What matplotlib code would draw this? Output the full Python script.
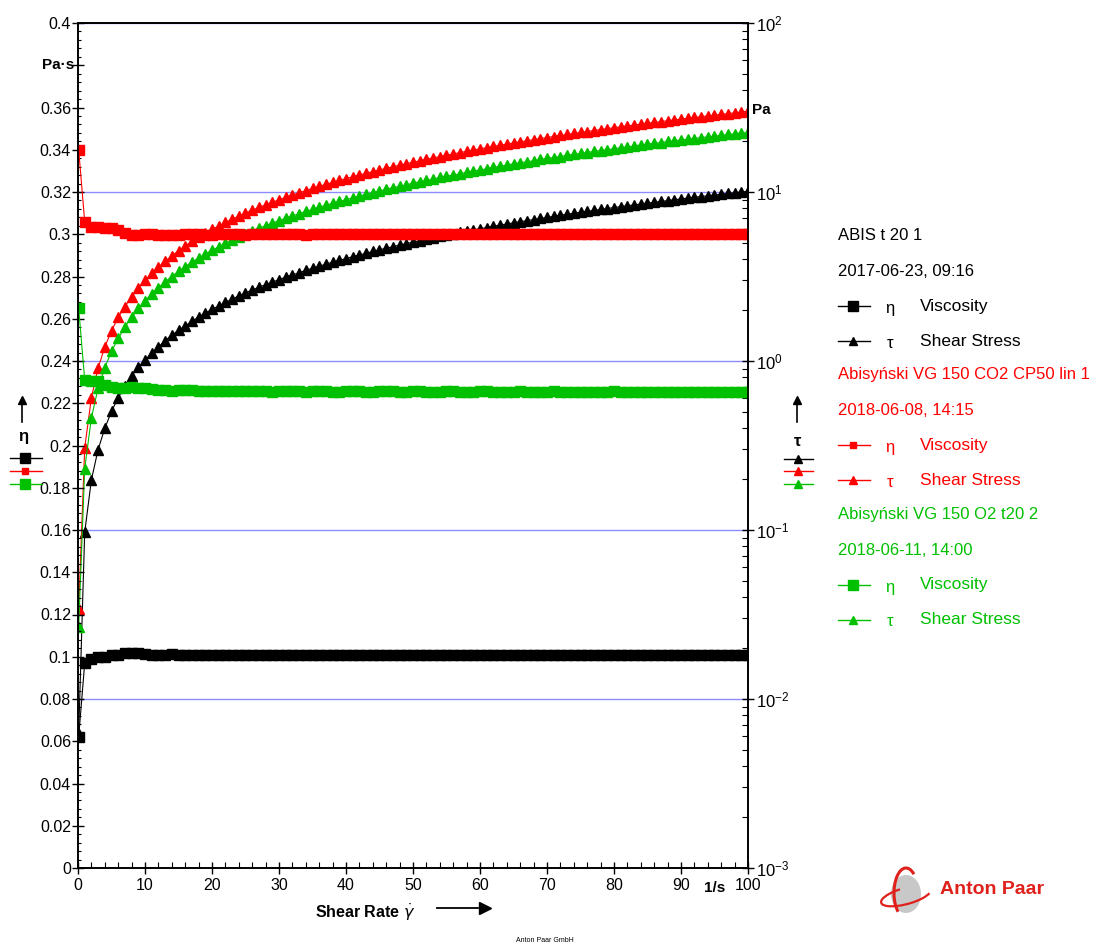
import matplotlib.pyplot as plt
import matplotlib.ticker as mticker
from matplotlib.lines import Line2D
from matplotlib.patches import Ellipse, Arc

plt.rcParams['font.family'] = ['Liberation Sans', 'DejaVu Sans']

W, H = 1096, 946

# shear rate [1/s]
shear_rate = [0.1,
              1, 2, 3, 4, 5, 6, 7, 8, 9, 10,
              11, 12, 13, 14, 15, 16, 17, 18, 19, 20,
              21, 22, 23, 24, 25, 26, 27, 28, 29, 30,
              31, 32, 33, 34, 35, 36, 37, 38, 39, 40,
              41, 42, 43, 44, 45, 46, 47, 48, 49, 50,
              51, 52, 53, 54, 55, 56, 57, 58, 59, 60,
              61, 62, 63, 64, 65, 66, 67, 68, 69, 70,
              71, 72, 73, 74, 75, 76, 77, 78, 79, 80,
              81, 82, 83, 84, 85, 86, 87, 88, 89, 90,
              91, 92, 93, 94, 95, 96, 97, 98, 99, 100]

# ABIS t 20 1 (black)
visc_black = [0.062,
              0.097, 0.099, 0.0997, 0.100, 0.1006, 0.101, 0.1016, 0.102, 0.102, 0.1015,
              0.101, 0.1008, 0.101, 0.1014, 0.101, 0.1008, 0.1008, 0.101, 0.101, 0.1008,
              0.1006, 0.1008, 0.101, 0.101, 0.1008, 0.1008, 0.1006, 0.1006, 0.1008, 0.1008,
              0.101, 0.1008, 0.1006, 0.1008, 0.101, 0.1008, 0.1006, 0.1006, 0.1008, 0.101,
              0.1008, 0.1006, 0.1006, 0.1008, 0.1008, 0.1006, 0.1006, 0.1008, 0.101, 0.1008,
              0.1006, 0.1006, 0.1008, 0.1008, 0.1006, 0.1006, 0.1008, 0.1008, 0.1006, 0.1006,
              0.1008, 0.1008, 0.1006, 0.1006, 0.1008, 0.101, 0.1008, 0.1006, 0.1006, 0.1008,
              0.1008, 0.1006, 0.1006, 0.1008, 0.1008, 0.1006, 0.1008, 0.101, 0.1008, 0.1006,
              0.1006, 0.1008, 0.1008, 0.1006, 0.1006, 0.1008, 0.1008, 0.1006, 0.1008, 0.1008,
              0.1006, 0.1006, 0.1008, 0.1008, 0.1006, 0.1006, 0.1008, 0.1008, 0.1006, 0.1006]
stress_black = [0.0062,
                0.097, 0.198, 0.299, 0.400, 0.503, 0.606, 0.711, 0.816, 0.918, 1.015,
                1.11, 1.21, 1.32, 1.42, 1.52, 1.61, 1.72, 1.82, 1.92, 2.02,
                2.12, 2.22, 2.32, 2.43, 2.53, 2.63, 2.73, 2.83, 2.93, 3.03,
                3.13, 3.23, 3.33, 3.44, 3.54, 3.64, 3.74, 3.84, 3.94, 4.04,
                4.14, 4.24, 4.34, 4.45, 4.55, 4.65, 4.75, 4.85, 4.95, 5.05,
                5.15, 5.25, 5.36, 5.46, 5.56, 5.66, 5.76, 5.86, 5.96, 6.06,
                6.16, 6.27, 6.37, 6.47, 6.57, 6.67, 6.77, 6.87, 6.97, 7.07,
                7.18, 7.28, 7.38, 7.48, 7.58, 7.68, 7.78, 7.88, 7.98, 8.09,
                8.19, 8.29, 8.39, 8.49, 8.59, 8.69, 8.79, 8.89, 9.00, 9.10,
                9.20, 9.30, 9.40, 9.50, 9.60, 9.70, 9.81, 9.91, 10.0, 10.1]

# Abisynski VG 150 CO2 CP50 lin 1 (red)
visc_red = [0.340,
            0.306, 0.3035, 0.3035, 0.303, 0.3028, 0.302, 0.3005, 0.2995, 0.2995, 0.300,
            0.300, 0.2998, 0.2995, 0.2995, 0.2998, 0.3002, 0.3003, 0.300, 0.2998, 0.2998,
            0.300, 0.3002, 0.3002, 0.300, 0.2998, 0.300, 0.3002, 0.3002, 0.300, 0.300,
            0.3002, 0.3002, 0.300, 0.2998, 0.300, 0.3002, 0.3002, 0.300, 0.300, 0.3002,
            0.3002, 0.300, 0.300, 0.3002, 0.3003, 0.3002, 0.300, 0.300, 0.3002, 0.3002,
            0.300, 0.300, 0.3002, 0.3002, 0.300, 0.300, 0.3002, 0.3003, 0.3002, 0.300,
            0.300, 0.3002, 0.3002, 0.300, 0.300, 0.3002, 0.3002, 0.300, 0.300, 0.3002,
            0.3003, 0.3002, 0.300, 0.300, 0.3002, 0.3002, 0.300, 0.300, 0.3002, 0.3002,
            0.300, 0.300, 0.3002, 0.3003, 0.3002, 0.300, 0.300, 0.3002, 0.3002, 0.300,
            0.300, 0.3002, 0.3002, 0.300, 0.300, 0.3002, 0.3003, 0.3002, 0.300, 0.300]
stress_red = [0.034,
              0.306, 0.607, 0.910, 1.21, 1.51, 1.81, 2.10, 2.40, 2.70, 3.00,
              3.30, 3.60, 3.89, 4.19, 4.50, 4.80, 5.10, 5.40, 5.70, 6.00,
              6.30, 6.60, 6.90, 7.20, 7.50, 7.80, 8.10, 8.40, 8.70, 9.00,
              9.30, 9.60, 9.90, 10.2, 10.5, 10.8, 11.1, 11.4, 11.7, 12.0,
              12.3, 12.6, 12.9, 13.2, 13.5, 13.8, 14.1, 14.4, 14.7, 15.0,
              15.3, 15.6, 15.9, 16.2, 16.5, 16.8, 17.1, 17.4, 17.7, 18.0,
              18.3, 18.6, 18.9, 19.2, 19.5, 19.8, 20.1, 20.4, 20.7, 21.0,
              21.3, 21.6, 21.9, 22.2, 22.5, 22.8, 23.1, 23.4, 23.7, 24.0,
              24.3, 24.6, 24.9, 25.2, 25.5, 25.8, 26.1, 26.4, 26.7, 27.0,
              27.3, 27.6, 27.9, 28.2, 28.5, 28.8, 29.1, 29.4, 29.7, 30.0]

# Abisynski VG 150 O2 t20 2 (green)
visc_green = [0.265,
              0.231, 0.2305, 0.2303, 0.2285, 0.2275, 0.227, 0.2273, 0.2276, 0.2273, 0.227,
              0.2268, 0.2265, 0.2262, 0.226, 0.2262, 0.2265, 0.2262, 0.226, 0.2258, 0.2258,
              0.2258, 0.226, 0.2258, 0.2256, 0.2256, 0.2258, 0.2258, 0.2256, 0.2255, 0.2256,
              0.2258, 0.2258, 0.2256, 0.2255, 0.2256, 0.2258, 0.2256, 0.2255, 0.2255, 0.2256,
              0.2258, 0.2256, 0.2255, 0.2255, 0.2256, 0.2258, 0.2256, 0.2255, 0.2255, 0.2256,
              0.2256, 0.2255, 0.2253, 0.2255, 0.2256, 0.2256, 0.2255, 0.2253, 0.2255, 0.2256,
              0.2256, 0.2255, 0.2253, 0.2253, 0.2255, 0.2256, 0.2255, 0.2253, 0.2253, 0.2255,
              0.2256, 0.2255, 0.2253, 0.2253, 0.2255, 0.2255, 0.2253, 0.2253, 0.2255, 0.2256,
              0.2255, 0.2253, 0.2253, 0.2255, 0.2255, 0.2253, 0.2252, 0.2253, 0.2255, 0.2255,
              0.2253, 0.2252, 0.2253, 0.2255, 0.2255, 0.2253, 0.2252, 0.2253, 0.2253, 0.2253]
stress_green = [0.0265,
                0.231, 0.461, 0.691, 0.914, 1.14, 1.36, 1.59, 1.82, 2.05, 2.27,
                2.49, 2.72, 2.94, 3.16, 3.39, 3.62, 3.84, 4.07, 4.29, 4.52,
                4.74, 4.97, 5.19, 5.42, 5.64, 5.87, 6.09, 6.32, 6.54, 6.77,
                6.99, 7.22, 7.44, 7.67, 7.89, 8.12, 8.34, 8.57, 8.79, 9.02,
                9.24, 9.47, 9.69, 9.92, 10.1, 10.4, 10.6, 10.8, 11.0, 11.3,
                11.5, 11.7, 11.9, 12.2, 12.4, 12.6, 12.8, 13.1, 13.3, 13.5,
                13.7, 14.0, 14.2, 14.4, 14.7, 14.9, 15.1, 15.3, 15.6, 15.8,
                16.0, 16.2, 16.5, 16.7, 16.9, 17.1, 17.4, 17.6, 17.8, 18.0,
                18.3, 18.5, 18.7, 19.0, 19.2, 19.4, 19.6, 19.9, 20.1, 20.3,
                20.5, 20.7, 21.0, 21.2, 21.4, 21.6, 21.9, 22.1, 22.3, 22.5]

BLACK = '#000000'
RED = '#ff0000'
GREEN = '#00c000'
GRID = '#8c8cff'


def px(x, y):
    return x / W, 1 - y / H


fig = plt.figure(figsize=(W / 100, H / 100), dpi=100)
ax = fig.add_axes([78 / W, 1 - 868 / H, (748 - 78) / W, (868 - 23) / H])
ax2 = ax.twinx()
# viscosity in front of stress, grid behind everything
ax.set_zorder(ax2.get_zorder() + 1)
ax.patch.set_visible(False)

# viscosity, left axis
ax.plot(shear_rate, visc_black, color=BLACK, lw=0.8, marker='s', ms=7)
ax.plot(shear_rate, visc_red, color=RED, lw=0.8, marker='s', ms=7)
ax.plot(shear_rate, visc_green, color=GREEN, lw=0.8, marker='s', ms=7)

# shear stress, right axis (log)
ax2.plot(shear_rate, stress_black, color=BLACK, lw=0.8, marker='^', ms=7)
ax2.plot(shear_rate, stress_red, color=RED, lw=0.8, marker='^', ms=7)
ax2.plot(shear_rate, stress_green, color=GREEN, lw=0.8, marker='^', ms=7)

ax.set_xlim(0, 100)
ax.set_ylim(0, 0.4)
ax2.set_yscale('log')
ax2.set_ylim(1e-3, 1e2)

ax2.grid(axis='y', which='major', color=GRID, lw=1)

# x ticks
ax.set_xticks(range(0, 101, 10))
ax.xaxis.set_minor_locator(mticker.MultipleLocator(2))
ax.tick_params(axis='x', which='major', direction='inout', length=8, width=1,
               labelsize=11.5, pad=3)
ax.tick_params(axis='x', which='minor', direction='in', length=4, width=0.8)
ax.tick_params(axis='x', top=False)

# left y ticks
left_ticks = [i * 0.02 for i in range(21)]
ax.set_yticks(left_ticks)


def left_fmt(v, pos):
    if abs(v - 0.38) < 1e-6:
        return ''
    s = f'{v:.2f}'.rstrip('0').rstrip('.')
    return s


ax.yaxis.set_major_formatter(mticker.FuncFormatter(left_fmt))
ax.yaxis.set_minor_locator(mticker.MultipleLocator(0.004))
ax.tick_params(axis='y', which='major', direction='inout', length=8, width=1,
               labelsize=11.5, pad=1)
ax.tick_params(axis='y', which='minor', direction='in', length=2, width=0.8)

# right log ticks
ax2.yaxis.set_major_locator(mticker.LogLocator(base=10, numticks=10))
ax2.yaxis.set_minor_locator(mticker.LogLocator(base=10, subs=range(2, 10), numticks=10))
ax2.yaxis.set_minor_formatter(mticker.NullFormatter())
ax2.tick_params(axis='y', which='major', direction='inout', length=8, width=1,
                labelsize=12, pad=2)
ax2.tick_params(axis='y', which='minor', direction='in', length=4, width=0.8)

for a in (ax, ax2):
    for sp in a.spines.values():
        sp.set_linewidth(1.2)

# unit labels
ax.text(-0.5, 0.38, 'Pa·s', ha='right', va='center', fontsize=11, fontweight='bold')
fig.text(*px(752, 110), 'Pa', ha='left', va='center', fontsize=11, fontweight='bold')
ax.text(95, -0.006, '1/s', ha='center', va='top', fontsize=11, fontweight='bold')

# x axis label with arrow
fig.text(*px(365, 912), r'Shear Rate $\dot{\gamma}$', ha='center', va='center',
         fontsize=11.5, fontweight='bold')
fig.add_artist(Line2D([437 / W, 478 / W], [1 - 908 / H] * 2, color='black', lw=1.3))
fig.add_artist(Line2D([485 / W], [1 - 908 / H], marker='>', ms=8, color='black'))

# left axis key
fig.add_artist(Line2D([22 / W] * 2, [1 - 422 / H, 1 - 402 / H], color='black', lw=1.2))
fig.add_artist(Line2D([22 / W], [1 - 400 / H], marker='^', ms=6, color='black'))
fig.text(*px(23, 436), 'η', ha='center', va='center', fontsize=12, fontweight='bold')
for yy, col, ms in [(458, BLACK, 7), (471, RED, 5), (484, GREEN, 7)]:
    fig.add_artist(Line2D([10 / W, 42 / W], [1 - yy / H] * 2, color=col, lw=1))
    fig.add_artist(Line2D([25 / W], [1 - yy / H], marker='s', ms=ms, color=col))

# right axis key
fig.add_artist(Line2D([797 / W] * 2, [1 - 422 / H, 1 - 402 / H], color='black', lw=1.2))
fig.add_artist(Line2D([797 / W], [1 - 400 / H], marker='^', ms=6, color='black'))
fig.text(*px(798, 442), 'τ', ha='center', va='center', fontsize=12, fontweight='bold')
for yy, col in [(459, BLACK), (471, RED), (484, GREEN)]:
    fig.add_artist(Line2D([784 / W, 813 / W], [1 - yy / H] * 2, color=col, lw=1))
    fig.add_artist(Line2D([798 / W], [1 - yy / H], marker='^', ms=6, color=col))

# sample legend
legend_rows = [
    ('ABIS t 20 1', '2017-06-23, 09:16', BLACK, 236, 7, 6),
    ('Abisyński VG 150 CO2 CP50 lin 1', '2018-06-08, 14:15', RED, 375, 5, 6),
    ('Abisyński VG 150 O2 t20 2', '2018-06-11, 14:00', GREEN, 515, 7, 6),
]
for name, date, col, y0, sq_ms, tr_ms in legend_rows:
    fig.text(*px(838, y0), name, color=col, ha='left', va='center', fontsize=12)
    fig.text(*px(838, y0 + 35), date, color=col, ha='left', va='center', fontsize=12)
    for k, (mk, ms, sym, lab) in enumerate([('s', sq_ms, 'η', 'Viscosity'),
                                             ('^', tr_ms, 'τ', 'Shear Stress')]):
        yy = y0 + 70 + 35 * k
        fig.add_artist(Line2D([838 / W, 870 / W], [1 - yy / H] * 2, color=col, lw=1))
        fig.add_artist(Line2D([853 / W], [1 - yy / H], marker=mk, ms=ms, color=col))
        fig.text(*px(890, yy + 2), sym, color=col, ha='center', va='center', fontsize=12)
        fig.text(*px(920, yy), lab, color=col, ha='left', va='center', fontsize=12.5)

# Anton Paar logo
fig.add_artist(Ellipse(px(906, 894), 30 / W, 38 / H, transform=fig.transFigure,
                       facecolor='#c8c8c8', edgecolor='none'))
fig.add_artist(Arc(px(906, 893), 24 / W, 50 / H, theta1=70, theta2=250,
                   transform=fig.transFigure, color='#e0201b', lw=2.2))
fig.add_artist(Arc(px(906, 896), 52 / W, 16 / H, angle=18, theta1=110, theta2=350,
                   transform=fig.transFigure, color='#e0201b', lw=1.6))
fig.text(*px(940, 889), 'Anton Paar', color='#e0201b', ha='left', va='center',
         fontsize=14, fontweight='bold')
fig.text(*px(545, 940), 'Anton Paar GmbH', ha='center', va='center', fontsize=5)

fig.savefig('out.png', dpi=100)
